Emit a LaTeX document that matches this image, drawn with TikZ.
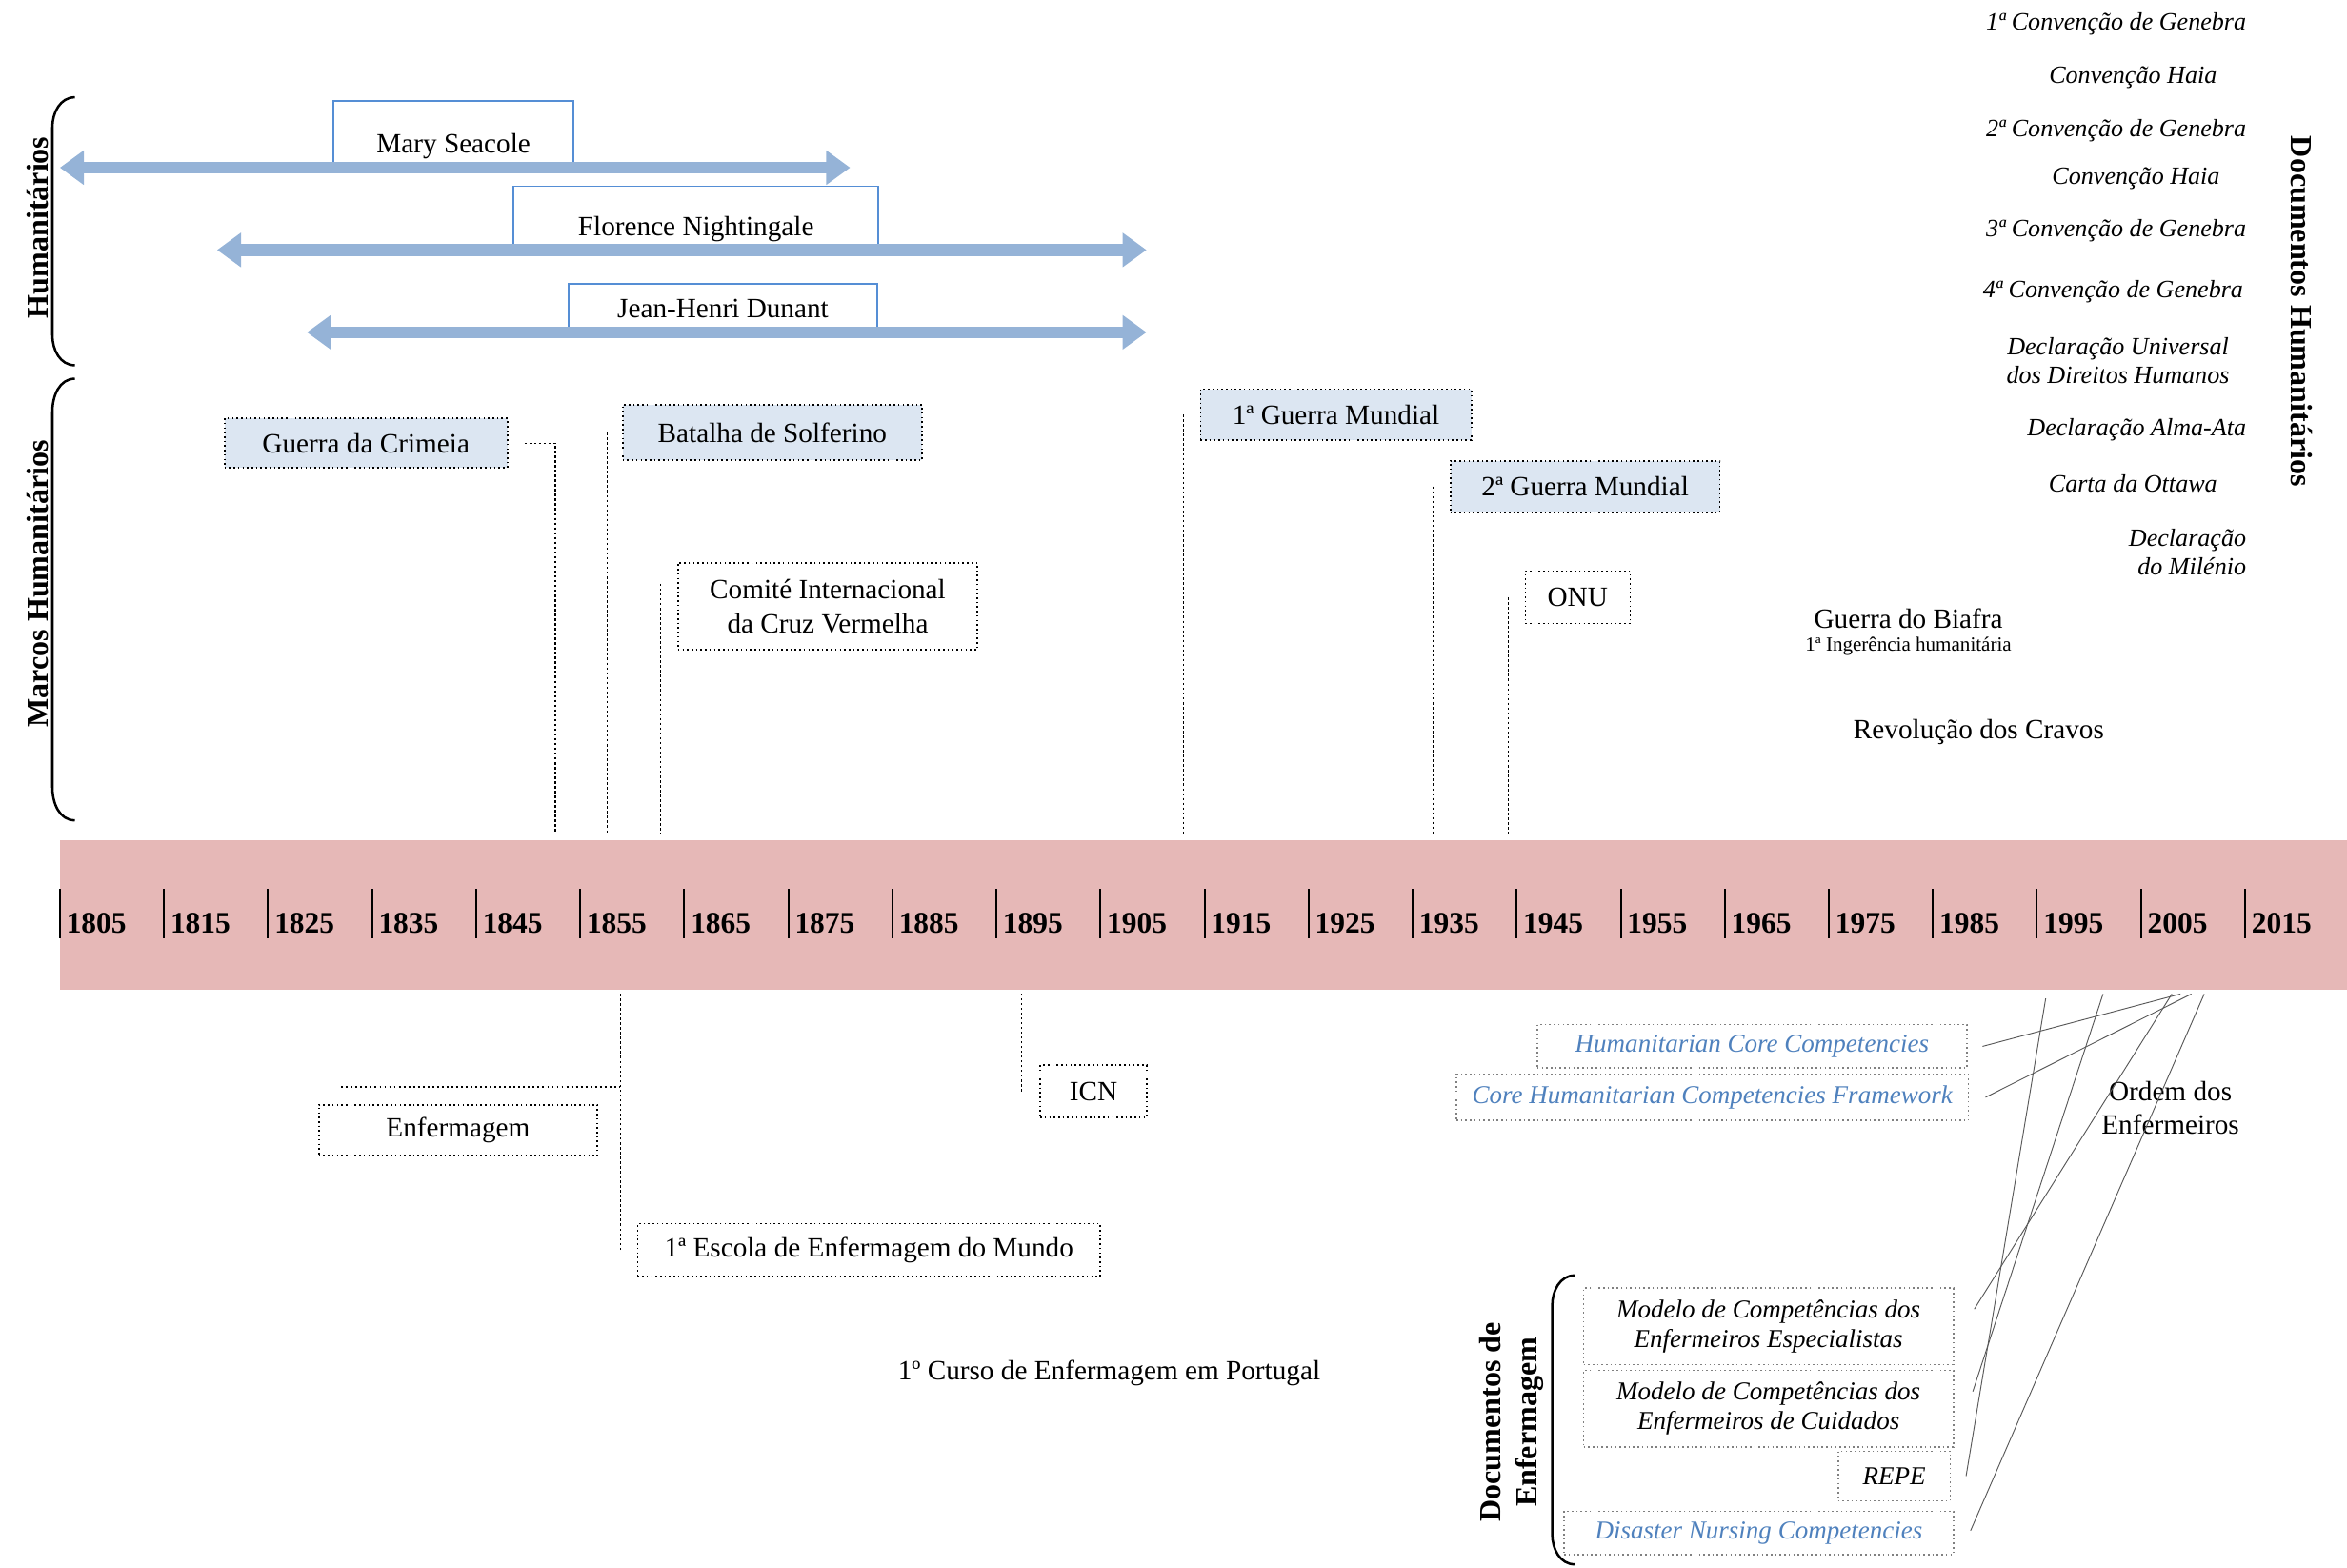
\documentclass[tikz,border=0pt]{standalone}
\usepackage{fontspec}
\setmainfont{Liberation Serif}
\usetikzlibrary{arrows.meta}

\definecolor{barpink}{RGB}{230,184,183}
\definecolor{arrowblue}{RGB}{149,179,215}
\definecolor{boxblue}{RGB}{85,142,213}
\definecolor{boxfill}{RGB}{220,230,242}
\definecolor{textblue}{RGB}{79,129,189}

\tikzset{
  lbl/.style={font=\fontsize{9.3}{11.5}\selectfont},
  hbox/.style={draw=boxblue, line width=0.6pt, inner sep=0pt, text depth=4.5pt, anchor=south, lbl},
  lifeline/.style={arrowblue, line width=4pt, {Triangle[width=11pt,length=8pt]}-{Triangle[width=11pt,length=8pt]}},
  event/.style={draw, densely dotted, line width=0.5pt, inner sep=0pt, align=center, lbl},
  war/.style={event, fill=boxfill},
  conn/.style={dash pattern=on 0.8pt off 0.8pt, line width=0.4pt},
  doc/.style={font=\fontsize{8.3}{9.5}\selectfont\itshape, inner sep=0pt},
  nursedoc/.style={draw=gray, densely dotted, line width=0.5pt, inner sep=0pt, align=center, font=\fontsize{8.6}{10}\selectfont\itshape},
  link/.style={gray!70!black, line width=0.3pt},
  side/.style={font=\fontsize{10.2}{12}\selectfont\bfseries},
  brace/.style={line width=0.8pt},
  year/.style={font=\fontsize{10}{12}\selectfont\bfseries, anchor=base west, inner sep=0pt},
}

\begin{document}
\begin{tikzpicture}[x=0.5pt,y=-0.5pt]
    \useasboundingbox (0,0) rectangle (1568,1047);

    % Timeline bar
    \fill[barpink] (40,561) rectangle (1568,661);
    \coordinate (bartop) at (0,557);
    \coordinate (barbot) at (0,664);
    \foreach \i in {0,...,21} {
        \pgfmathtruncatemacro\yr{1805+10*\i}
        \draw[line width=0.6pt] ({40+69.52*\i},594) -- ({40+69.52*\i},627);
        \node[year] (y\yr) at ({44+69.52*\i},623) {\yr};
    }

    % Humanitarians
    \node[hbox, minimum width=80pt, text height=17.5pt] (mary) at (303,112) {Mary Seacole};
    \node[hbox, minimum width=122pt, text height=16.5pt] (florence) at (465,167) {Florence Nightingale};
    \node[hbox, minimum width=103pt, text height=11.5pt] (dunant) at (483,222) {Jean-Henri Dunant};
    \draw[lifeline] (40,112) -- (568,112);
    \draw[lifeline] (145,167) -- (766,167);
    \draw[lifeline] (205,222) -- (766,222);

    % Braces on the left
    \draw[brace] (50,65) to[out=180,in=90] (35,85) -- (35,224) to[out=-90,in=180] (50,244);
    \node[side, rotate=90] (humlbl) at (25,152) {Humanitários};
    \draw[brace] (50,253) to[out=180,in=90] (35,275) -- (35,526) to[out=-90,in=180] (50,548);
    \node[side, rotate=90] (marcoslbl) at (25,390) {Marcos Humanitários};

    % Humanitarian landmarks
    \node[war, minimum width=94.5pt, minimum height=16.5pt] (crimeia) at (244.5,296) {Guerra da Crimeia};
    \node[war, minimum width=100pt, minimum height=18.5pt] (solferino) at (516,289) {Batalha de Solferino};
    \node[event, minimum width=100pt, minimum height=29pt] (cicv) at (553,405) {Comité Internacional\\da Cruz Vermelha};
    \node[war, minimum width=90.5pt, minimum height=17pt] (gm1) at (892.5,277) {1ª Guerra Mundial};
    \node[war, minimum width=90pt, minimum height=17pt] (gm2) at (1059,325) {2ª Guerra Mundial};
    \node[event, minimum width=35pt, minimum height=17.5pt] (onu) at (1054,399) {ONU};
    \node[lbl] (biafra) at (1275,413) {Guerra do Biafra};
    \node[font=\fontsize{6.7}{8}\selectfont] (ingerencia) at (1275,432) {1ª Ingerência humanitária};
    \node[lbl] (cravos) at (1322,489) {Revolução dos Cravos};

    % Landmarks down to the bar
    \coordinate (crimeiaend) at (371,557);
    \draw[conn] ([xshift=5.5pt]crimeia.east) -| (crimeiaend);
    \draw[conn] ([xshift=-5pt]solferino.west) -- ([xshift=-5pt]solferino.west |- bartop);
    \draw[conn] ([xshift=-5.5pt,yshift=7.5pt]cicv.west) -- ([xshift=-5.5pt]cicv.west |- bartop);
    \draw[conn] ([xshift=-5.5pt]gm1.west) -- ([xshift=-5.5pt]gm1.west |- bartop);
    \draw[conn] ([xshift=-5.5pt]gm2.west) -- ([xshift=-5.5pt]gm2.west |- bartop);
    \draw[conn] ([xshift=-5.5pt]onu.west) -- ([xshift=-5.5pt]onu.west |- bartop);

    % Humanitarian documents
    \node[doc, anchor=east] (genebra1) at (1501,16) {1ª Convenção de Genebra};
    \node[doc] (haia1) at (1425,52) {Convenção Haia};
    \node[doc, anchor=east] (genebra2) at (1501,87) {2ª Convenção de Genebra};
    \node[doc] (haia2) at (1427,119) {Convenção Haia};
    \node[doc, anchor=east] (genebra3) at (1501,154) {3ª Convenção de Genebra};
    \node[doc, anchor=east] (genebra4) at (1499,195) {4ª Convenção de Genebra};
    \node[doc, align=center] (dudh) at (1415,241) {Declaração Universal\\dos Direitos Humanos};
    \node[doc, anchor=east] (almaata) at (1501,287) {Declaração Alma-Ata};
    \node[doc] (ottawa) at (1425,323) {Carta da Ottawa};
    \node[doc, align=right, anchor=east] (milenio) at (1501,369) {Declaração\\do Milénio};
    \node[side, rotate=-90] (dochumlbl) at (1538,208) {Documentos Humanitários};

    % Nursing
    \node[event, minimum width=93pt, minimum height=17pt] (enf) at (306,755) {Enfermagem};
    \node[event, minimum width=154.5pt, minimum height=17.5pt] (escola) at (580.5,835) {1ª Escola de Enfermagem do Mundo};
    \node[event, minimum width=35.5pt, minimum height=17.5pt] (icn) at (730.5,729) {ICN};
    \node[lbl] (curso) at (741,917) {1º Curso de Enfermagem em Portugal};
    \draw[conn] ([xshift=-5.5pt]escola.west) -- ([xshift=-5.5pt]escola.west |- barbot);
    \coordinate (enfline) at (228,726);
    \draw[densely dotted, line width=0.6pt] (enfline) -- ([xshift=-5.5pt]escola.west |- enfline);
    \draw[conn] ([xshift=-6pt]icn.west) -- ([xshift=-6pt]icn.west |- barbot);

    % Competences
    \node[nursedoc, text=textblue, minimum width=143.5pt, minimum height=14.5pt] (hcc) at (1170.5,699) {Humanitarian Core Competencies};
    \node[nursedoc, text=textblue, minimum width=171pt, minimum height=15.5pt] (chcf) at (1144,733) {Core Humanitarian Competencies Framework};
    \node[lbl, align=center, font=\fontsize{9.3}{11}\selectfont] (ordem) at (1450,740) {Ordem dos\\Enfermeiros};

    % Nursing documents
    \draw[brace] (1052,852) to[out=180,in=90] (1037,872) -- (1037,1025) to[out=-90,in=180] (1052,1045);
    \node[side, rotate=90, align=center] (docenflbl) at (1010,950) {Documentos de\\Enfermagem};
    \node[nursedoc, minimum width=123.5pt, minimum height=25.5pt] (mce) at (1181.5,886) {Modelo de Competências dos\\Enfermeiros Especialistas};
    \node[nursedoc, minimum width=123.5pt, minimum height=25.5pt] (mcc) at (1181.5,941) {Modelo de Competências dos\\Enfermeiros de Cuidados};
    \node[nursedoc, minimum width=37.5pt, minimum height=16.5pt] (repe) at (1265.5,986) {REPE};
    \node[nursedoc, text=textblue, minimum width=130pt, minimum height=14.5pt] (dnc) at (1175,1024) {Disaster Nursing Competencies};

    % Links up to the bar
    \coordinate (o1) at (1456.7,664);
    \coordinate (o2) at (1464,664);
    \coordinate (o3) at (1451,664);
    \coordinate (o4) at (1405,664);
    \coordinate (o5) at (1366.7,667);
    \coordinate (o6) at (1472.6,664);
    \draw[link] ([xshift=5pt]hcc.east) -- (o1);
    \draw[link] ([xshift=5.5pt]chcf.east) -- (o2);
    \draw[link] ([xshift=6.75pt,yshift=5.75pt]mce.east) -- (o3);
    \draw[link] ([xshift=6.25pt,yshift=5.75pt]mcc.east) -- (o4);
    \draw[link] ([xshift=5pt]repe.east) -- (o5);
    \draw[link] ([xshift=5.5pt,yshift=0.75pt]dnc.east) -- (o6);
\end{tikzpicture}
\end{document}
